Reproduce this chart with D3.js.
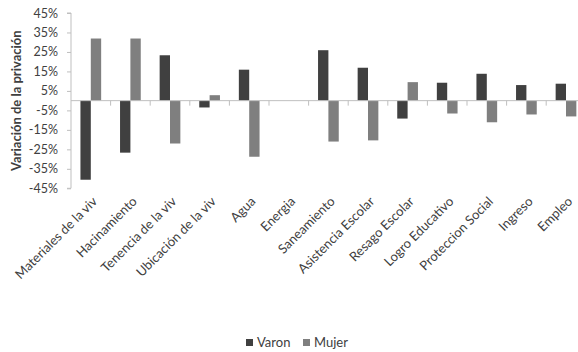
<!DOCTYPE html>
<html>
<head>
<meta charset="utf-8">
<script src="https://cdn.jsdelivr.net/npm/d3@7"></script>
<style>
  html, body { margin: 0; padding: 0; background: #fff; }
  svg { display: block; font-family: Lato, "Open Sans", sans-serif; }
</style>
</head>
<body>
<svg id="chart" width="578" height="352"></svg>
<script>
// Categories of deprivation and the change for each sex (percent)
const categories = [
  "Materiales de la viv", "Hacinamiento", "Tenencia de la viv", "Ubicación de la viv",
  "Agua", "Energia", "Saneamiento", "Asistencia Escolar", "Resago Escolar",
  "Logro Educativo", "Proteccion Social", "Ingreso", "Empleo"
];
const varon = [-40.6, -26.7, 23.3, -3.5, 15.9, 0, 25.9, 16.9, -9.2, 9.2, 13.8, 8.0, 8.7];
const mujer = [31.9, 31.9, -22.0, 2.8, -28.8, 0, -21.0, -20.4, 9.5, -6.6, -11.1, -7.1, -8.1];
const seriesNames = ["Varon", "Mujer"];
const seriesColors = ["#404040", "#7f7f7f"];
const yTicks = [45, 35, 25, 15, 5, -5, -15, -25, -35, -45];

const svg = d3.select("#chart");
const plotLeft = 71, plotTop = 13, plotBottom = 188.3;
const step = 39.6;

const x = d3.scaleBand()
  .domain(categories)
  .range([plotLeft, plotLeft + step * categories.length])
  .paddingInner(0.477)
  .paddingOuter(0.2385);

const x1 = d3.scaleBand()
  .domain(seriesNames)
  .range([0, x.bandwidth()]);

const y = d3.scaleLinear().domain([-45, 45]).range([plotBottom, plotTop]);

const textColor = "#404040";
const axisColor = "#bfbfbf";

// Y axis
const yAxis = svg.append("g")
  .attr("transform", `translate(${plotLeft},0)`)
  .call(d3.axisLeft(y).tickValues(yTicks).tickSize(4).tickPadding(9)
    .tickFormat(d => d + "%"));
yAxis.select(".domain").attr("stroke", axisColor).attr("d", `M-4,${y(45)}H0V${y(-45)}H-4`);
yAxis.selectAll(".tick line").attr("stroke", axisColor);
yAxis.selectAll(".tick text")
  .attr("fill", textColor)
  .style("font-size", "12.5px")
  .style("font-family", "Lato, sans-serif");

// Bars
const data = categories.map((c, i) => ({ cat: c, values: [varon[i], mujer[i]] }));
const groups = svg.append("g").selectAll("g")
  .data(data).join("g")
  .attr("transform", d => `translate(${x(d.cat)},0)`);
groups.selectAll("rect")
  .data(d => d.values.map((v, j) => ({ v, s: seriesNames[j], c: seriesColors[j] })))
  .join("rect")
  .attr("x", d => x1(d.s))
  .attr("width", x1.bandwidth())
  .attr("y", d => y(Math.max(0, d.v)))
  .attr("height", d => Math.abs(y(d.v) - y(0)))
  .attr("fill", d => d.c);

// Category axis along zero
const xAxis = svg.append("g")
  .attr("transform", `translate(0,${y(0)})`);
xAxis.append("line")
  .attr("x1", plotLeft).attr("x2", 578)
  .attr("stroke", axisColor);
xAxis.selectAll("line.tick")
  .data(categories)
  .join("line")
  .attr("class", "tick")
  .attr("x1", (d, i) => plotLeft + step * (i + 1))
  .attr("x2", (d, i) => plotLeft + step * (i + 1))
  .attr("y1", 0).attr("y2", 5)
  .attr("stroke", axisColor);

// Rotated category labels
svg.append("g").selectAll("text")
  .data(categories).join("text")
  .attr("transform", d => `translate(${x(d) + x.bandwidth() / 2 + 4},${199}) rotate(-45)`)
  .attr("text-anchor", "end")
  .attr("dy", "0.35em")
  .attr("fill", textColor)
  .style("font-size", "13px")
  .text(d => d);

// Y axis title
svg.append("text")
  .attr("transform", `translate(16,${(plotTop + plotBottom) / 2}) rotate(-90)`)
  .attr("text-anchor", "middle")
  .attr("dy", "0.35em")
  .attr("fill", textColor)
  .style("font-size", "13px")
  .style("font-weight", "bold")
  .text("Variación de la privación");

// Legend
const legend = svg.append("g").attr("transform", "translate(246,339)");
const legendOffsets = [0, 57];
seriesNames.forEach((name, i) => {
  const g = legend.append("g").attr("transform", `translate(${legendOffsets[i]},0)`);
  g.append("rect").attr("width", 7).attr("height", 7).attr("fill", seriesColors[i]);
  g.append("text")
    .attr("x", 11).attr("y", 3.5).attr("dy", "0.35em")
    .attr("fill", textColor)
    .style("font-size", "13px")
    .text(name);
});
</script>
</body>
</html>
